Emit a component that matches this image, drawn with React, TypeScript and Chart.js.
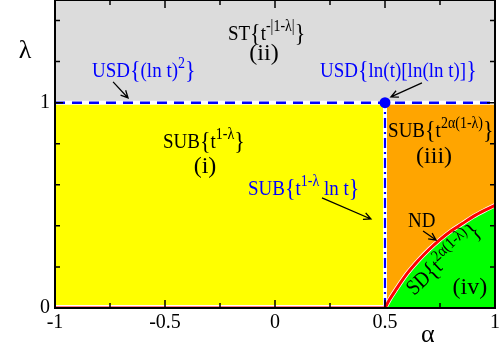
import React, { useEffect, useRef } from "react";
import { Chart, registerables } from "chart.js";

Chart.register(...registerables);

// ---- data ----
const alphaMin = -1;
const alphaMax = 1;
const lambdaMin = 0;
const lambdaMax = 1.5;
const criticalAlpha = 0.5;
const criticalLambda = 1;

const xTickValues = [-1, -0.75, -0.5, -0.25, 0, 0.25, 0.5, 0.75, 1];
const xTickLabels = ["-1", "-0.5", "0", "0.5", "1"];
const yTickValues = [0, 0.2, 0.4, 0.6, 0.8, 1, 1.2, 1.4];
const yTickLabels = ["0", "1"];

// ND boundary curve
const ndAlpha = [0.5, 0.52, 0.55, 0.6, 0.65, 0.7, 0.75, 0.8, 0.85, 0.9, 0.95, 1.0];
const ndLambda = [0, 0.04, 0.09, 0.167, 0.23, 0.285, 0.333, 0.375, 0.41, 0.445, 0.474, 0.5];

// text annotations
// part kinds: n = normal, s = superscript, b = brace, r = roman numeral label
type Part = [string, string];
const labelTexts: { parts: Part[]; x: number; y: number; color: string; align: string; rot: number }[] = [
  { parts: [["ST", "n"], ["{", "b"], ["t", "n"], ["-|1-λ|", "s"], ["}", "b"]], x: -0.214, y: 1.305, color: "#000", align: "left", rot: 0 },
  { parts: [["(ii)", "r"]], x: -0.05, y: 1.21, color: "#000", align: "center", rot: 0 },
  { parts: [["USD", "n"], ["{", "b"], ["(ln t)", "n"], ["2", "s"], ["}", "b"]], x: -0.832, y: 1.125, color: "#0000FF", align: "left", rot: 0 },
  { parts: [["USD", "n"], ["{", "b"], ["ln(t)[ln(ln t)]", "n"], ["}", "b"]], x: 0.2045, y: 1.125, color: "#0000FF", align: "left", rot: 0 },
  { parts: [["SUB", "n"], ["{", "b"], ["t", "n"], ["1-λ", "s"], ["}", "b"]], x: -0.509, y: 0.779, color: "#000", align: "left", rot: 0 },
  { parts: [["(i)", "r"]], x: -0.318, y: 0.658, color: "#000", align: "center", rot: 0 },
  { parts: [["SUB", "n"], ["{", "b"], ["t", "n"], ["2α(1-λ)", "s"], ["}", "b"]], x: 0.514, y: 0.833, color: "#000", align: "left", rot: 0 },
  { parts: [["(iii)", "r"]], x: 0.723, y: 0.706, color: "#000", align: "center", rot: 0 },
  { parts: [["SUB", "n"], ["{", "b"], ["t", "n"], ["1-λ", "s"], [" ln t", "n"], ["}", "b"]], x: -0.123, y: 0.55, color: "#0000FF", align: "left", rot: 0 },
  { parts: [["ND", "n"]], x: 0.6045, y: 0.395, color: "#000", align: "left", rot: 0 },
  { parts: [["SD", "n"], ["{", "b"], ["t", "n"], ["2α(1-λ)", "s"], ["}", "b"]], x: 0.632, y: 0.058, color: "#000", align: "left", rot: -43 },
  { parts: [["(iv)", "r"]], x: 0.886, y: 0.068, color: "#000", align: "center", rot: 0 },
];

// arrows
const arrowFromAlpha = [-0.736, 0.668, 0.2136, 0.673];
const arrowFromLambda = [1.101, 1.096, 0.536, 0.375];
const arrowToAlpha = [-0.668, 0.527, 0.436, 0.732];
const arrowToLambda = [1.023, 1.028, 0.4335, 0.331];

const xTitle = "α";
const yTitle = "λ";
const xTitleAt = 0.695;
const yTitleAt = 1.218;

const FONT = '"Liberation Serif", "Times New Roman", serif';

const sizes: Record<string, number> = { n: 19, s: 14, b: 22, r: 24 };
const TEXT_STRETCH = 1.15;

function drawRich(ctx: CanvasRenderingContext2D, px: number, py: number, parts: Part[], color: string, align: string, rot: number) {
  ctx.save();
  ctx.translate(px, py);
  ctx.rotate((rot * Math.PI) / 180);
  const isRoman = parts.length === 1 && parts[0][1] === "r";
  if (!isRoman) ctx.scale(1, TEXT_STRETCH);
  ctx.fillStyle = color;
  ctx.textBaseline = "alphabetic";
  ctx.textAlign = "left";
  let total = 0;
  const widths = parts.map(([t, k]) => {
    ctx.font = `${sizes[k]}px ${FONT}`;
    const w = ctx.measureText(t).width;
    total += w;
    return w;
  });
  let cx = align === "center" ? -total / 2 : 0;
  parts.forEach(([t, k], i) => {
    ctx.font = `${sizes[k]}px ${FONT}`;
    let dy = 0;
    if (k === "s") dy = -8;
    if (k === "b") dy = 1;
    ctx.fillText(t, cx, dy);
    cx += widths[i];
  });
  ctx.restore();
}

function drawArrow(ctx: CanvasRenderingContext2D, x0: number, y0: number, x1: number, y1: number) {
  ctx.save();
  ctx.strokeStyle = "#000";
  ctx.lineWidth = 1.3;
  ctx.beginPath();
  ctx.moveTo(x0, y0);
  ctx.lineTo(x1, y1);
  const ang = Math.atan2(y1 - y0, x1 - x0);
  const L = 8;
  const spread = 0.45;
  ctx.moveTo(x1 - L * Math.cos(ang - spread), y1 - L * Math.sin(ang - spread));
  ctx.lineTo(x1, y1);
  ctx.lineTo(x1 - L * Math.cos(ang + spread), y1 - L * Math.sin(ang + spread));
  ctx.stroke();
  ctx.restore();
}

const near = (a: number, b: number) => Math.abs(a - b) < 1e-6;

const decorPlugin = {
  id: "phaseDecor",
  afterDatasetsDraw(chart: any) {
    const { ctx, chartArea: a, scales } = chart;
    const xs = scales.x;
    const ys = scales.y;
    ctx.save();
    ctx.strokeStyle = "#000";
    ctx.lineWidth = 1.5;
    ctx.beginPath();
    xTickValues.forEach((v) => {
      const p = xs.getPixelForValue(v);
      const major = near(v * 2, Math.round(v * 2));
      const len = major ? 8 : 5;
      ctx.moveTo(p, a.bottom);
      ctx.lineTo(p, a.bottom - len);
      ctx.moveTo(p, a.top);
      ctx.lineTo(p, a.top + len);
    });
    yTickValues.forEach((v) => {
      const p = ys.getPixelForValue(v);
      const major = near(v, Math.round(v));
      const len = major ? 8 : 5;
      ctx.moveTo(a.left, p);
      ctx.lineTo(a.left + len, p);
      ctx.moveTo(a.right, p);
      ctx.lineTo(a.right - len, p);
    });
    ctx.stroke();
    ctx.lineWidth = 2;
    ctx.strokeRect(a.left, a.top, a.right - a.left, a.bottom - a.top);

    for (let i = 0; i < arrowFromAlpha.length; i++) {
      drawArrow(
        ctx,
        xs.getPixelForValue(arrowFromAlpha[i]),
        ys.getPixelForValue(arrowFromLambda[i]),
        xs.getPixelForValue(arrowToAlpha[i]),
        ys.getPixelForValue(arrowToLambda[i])
      );
    }
    labelTexts.forEach((l) => {
      drawRich(ctx, xs.getPixelForValue(l.x), ys.getPixelForValue(l.y), l.parts, l.color, l.align, l.rot);
    });

    // axis titles
    ctx.fillStyle = "#000";
    ctx.font = `26px ${FONT}`;
    ctx.textAlign = "center";
    ctx.textBaseline = "alphabetic";
    ctx.fillText(yTitle, a.left - 30, ys.getPixelForValue(yTitleAt));
    ctx.fillText(xTitle, xs.getPixelForValue(xTitleAt), a.bottom + 34);
    ctx.restore();
  },
};

export default function App() {
  const ref = useRef<HTMLCanvasElement | null>(null);
  useEffect(() => {
    if (!ref.current) return;
    const ndPoints = ndAlpha.map((x, i) => ({ x, y: ndLambda[i] }));
    const base = { pointRadius: 0, borderWidth: 0, showLine: true };
    const chart = new Chart(ref.current, {
      type: "line",
      data: {
        datasets: [
          { ...base, data: [{ x: alphaMin, y: lambdaMax }, { x: alphaMax, y: lambdaMax }], fill: { value: criticalLambda }, backgroundColor: "#DCDCDC", order: 20 },
          { ...base, data: [{ x: alphaMin, y: criticalLambda }, { x: criticalAlpha, y: criticalLambda }], fill: "origin", backgroundColor: "#FFFF00", order: 19 },
          { ...base, data: [{ x: criticalAlpha, y: criticalLambda }, { x: alphaMax, y: criticalLambda }], fill: "origin", backgroundColor: "#FFA500", order: 18 },
          { ...base, data: ndPoints, fill: "origin", backgroundColor: "#00FF00", borderColor: "#FFFFFF", borderWidth: 4.5, cubicInterpolationMode: "monotone", order: 17 },
          { ...base, data: [{ x: alphaMin, y: criticalLambda }, { x: alphaMax, y: criticalLambda }], borderColor: "#FFFFFF", borderWidth: 4, fill: false, order: 16 },
          { ...base, data: [{ x: criticalAlpha, y: lambdaMin }, { x: criticalAlpha, y: criticalLambda }], borderColor: "#FFFFFF", borderWidth: 4, fill: false, order: 16 },
          { ...base, data: [{ x: alphaMin, y: lambdaMin }, { x: criticalAlpha, y: lambdaMin }], borderColor: "#FFFFFF", borderWidth: 6, fill: false, order: 16 },
          { ...base, data: [{ x: alphaMin, y: criticalLambda }, { x: alphaMax, y: criticalLambda }], borderColor: "#0000FF", borderWidth: 2.5, borderDash: [10, 7], fill: false, order: 10 },
          { ...base, data: [{ x: criticalAlpha, y: lambdaMin }, { x: criticalAlpha, y: criticalLambda }], borderColor: "#0000FF", borderWidth: 2.2, borderDash: [10, 4, 2, 4], fill: false, order: 10 },
          { ...base, data: [{ x: alphaMin, y: lambdaMin }, { x: criticalAlpha, y: lambdaMin }], borderColor: "#FF0000", borderWidth: 3, fill: false, order: 9 },
          { ...base, data: ndPoints, borderColor: "#FF0000", borderWidth: 3, fill: false, cubicInterpolationMode: "monotone", order: 9 },
          { data: [{ x: criticalAlpha, y: criticalLambda }], showLine: false, pointRadius: 5.5, pointBackgroundColor: "#0000FF", pointBorderWidth: 0, borderColor: "#0000FF", backgroundColor: "#0000FF", order: 1 },
        ] as any,
      },
      options: {
        responsive: false,
        animation: false,
        layout: { autoPadding: false, padding: { left: 0, right: 4, top: 0, bottom: 0 } },
        plugins: { legend: { display: false }, tooltip: { enabled: false }, title: { display: false } },
        scales: {
          x: {
            type: "linear",
            min: alphaMin,
            max: alphaMax,
            grid: { display: false, drawTicks: false },
            border: { display: false },
            ticks: {
              stepSize: 0.5,
              padding: 3,
              color: "#000",
              font: { family: FONT, size: 20 },
              maxRotation: 0,
              autoSkip: false,
              callback: (v: any) => {
                const s = String(Math.round(Number(v) * 10) / 10);
                return xTickLabels.includes(s) ? s : "";
              },
            },
            afterFit: (s: any) => {
              s.height = 41;
              s.paddingLeft = 0;
              s.paddingRight = 0;
            },
          },
          y: {
            type: "linear",
            min: lambdaMin,
            max: lambdaMax,
            grid: { display: false, drawTicks: false },
            border: { display: false },
            ticks: {
              stepSize: 0.5,
              padding: 5,
              color: "#000",
              font: { family: FONT, size: 20 },
              callback: (v: any) => {
                const s = String(Math.round(Number(v) * 10) / 10);
                return yTickLabels.includes(s) ? s : "";
              },
            },
            afterFit: (s: any) => {
              s.width = 55;
              s.paddingTop = 0;
              s.paddingBottom = 0;
            },
          },
        },
      },
      plugins: [decorPlugin],
    });
    return () => chart.destroy();
  }, []);
  return (
    <div style={{ position: "fixed", left: 0, top: 0, width: 499, height: 349, background: "#fff" }}>
      <canvas ref={ref} width={499} height={349} />
    </div>
  );
}
